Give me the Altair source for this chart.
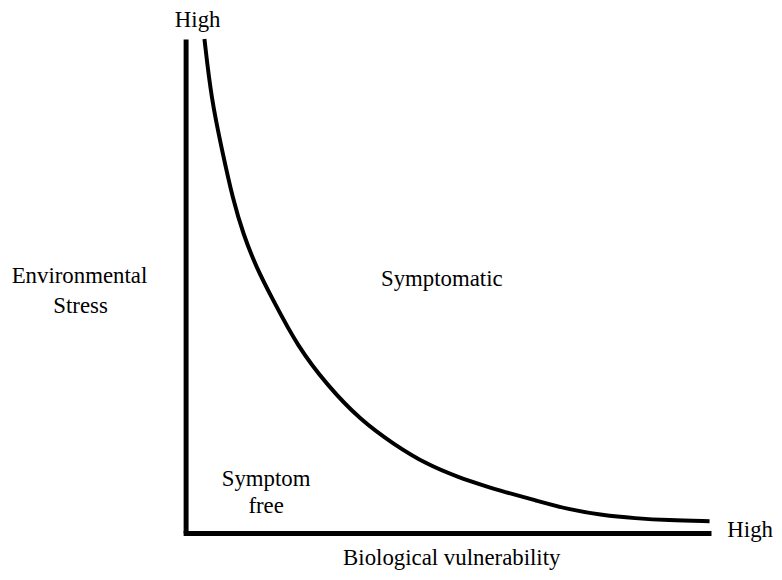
import altair as alt
import pandas as pd

# Boundary curve: biological vulnerability (x) vs environmental stress (y), 0-100 scale
curve_x = [3.6, 4.9, 7.0, 9.1, 11.0, 13.5, 16.7, 21.4, 27.1, 33.4, 39.9, 46.1,
           52.4, 57.1, 60.7, 67.0, 73.2, 79.7, 86.0, 92.2, 100.2]
curve_y = [100.0, 88.0, 77.3, 67.3, 60.6, 53.8, 47.2, 37.8, 29.9, 22.9, 17.9, 13.9,
           11.2, 9.6, 8.4, 6.6, 4.8, 3.6, 3.0, 2.6, 2.4]

# Annotations (in the same data units)
label_text = ["High", "High", "Environmental", "Stress", "Symptomatic",
              "Symptom", "free", "Biological vulnerability"]
label_x = [2.3, 103.6, -20.3, -20.1, 49.0, 15.4, 15.4, 50.9]
label_y = [102.4, -0.8, 50.6, 44.6, 50.0, 9.6, 4.0, -6.4]
label_align = ["center", "left", "center", "center", "center", "center", "center", "center"]

curve_df = pd.DataFrame({"x": curve_x, "y": curve_y})
labels_df = pd.DataFrame({"text": label_text, "x": label_x, "y": label_y, "align": label_align})

FONT = "Liberation Serif, Times New Roman, DejaVu Serif, serif"

xscale = alt.Scale(domain=[0, 100], nice=False, zero=False)
yscale = alt.Scale(domain=[0, 100], nice=False, zero=False)

curve = alt.Chart(curve_df).mark_line(
    color="black", strokeWidth=4, interpolate="basis"
).encode(
    x=alt.X("x:Q", scale=xscale,
            axis=alt.Axis(labels=False, ticks=False, title=None, grid=False,
                          domainColor="black", domainWidth=5, domainCap="square")),
    y=alt.Y("y:Q", scale=yscale,
            axis=alt.Axis(labels=False, ticks=False, title=None, grid=False,
                          domainColor="black", domainWidth=5, domainCap="butt")),
)

def text_layer(align):
    return alt.Chart(labels_df[labels_df["align"] == align]).mark_text(
        font=FONT, fontSize=23, color="black",
        align=align, baseline="alphabetic"
    ).encode(
        x=alt.X("x:Q", scale=xscale),
        y=alt.Y("y:Q", scale=yscale),
        text="text:N",
    )

chart = alt.layer(curve, text_layer("center"), text_layer("left")).properties(
    width=527,
    height=498,
    autosize=alt.AutoSizeParams(type="none"),
    padding={"left": 179, "top": 29, "right": 66, "bottom": 37},
    background="white",
).configure_view(stroke=None, strokeWidth=0)

chart.save("out.html", embed_options={"renderer": "svg", "actions": False})
